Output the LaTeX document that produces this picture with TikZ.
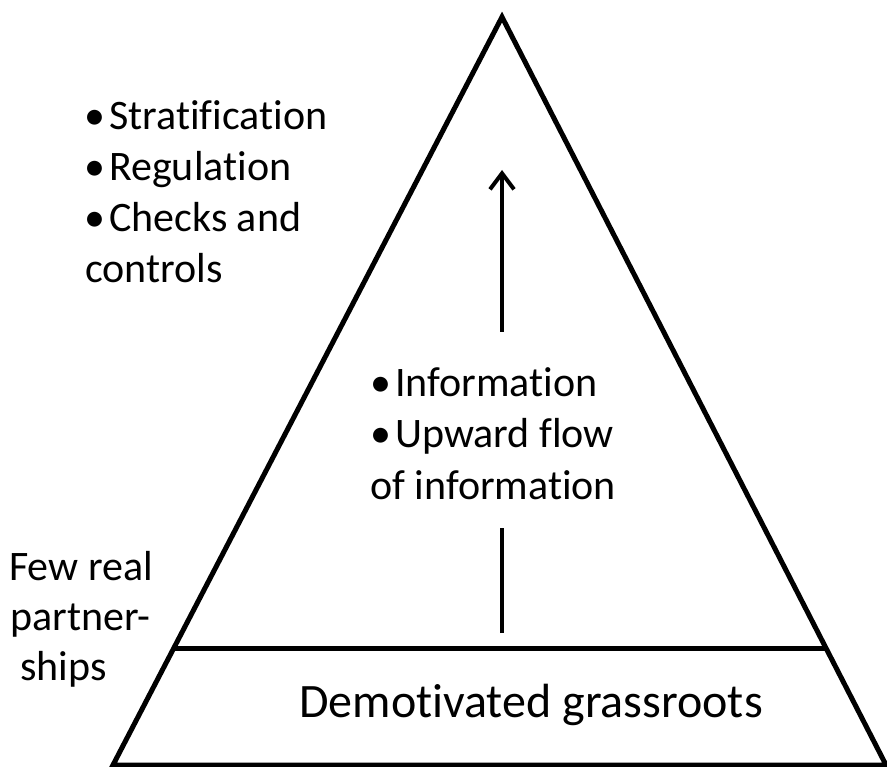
\documentclass[tikz,border=0pt]{standalone}
\usepackage{fontspec}
\setmainfont{Carlito}[Ligatures={NoCommon}]
\usetikzlibrary{arrows.meta,calc}
\newcommand{\bul}{\makebox[25pt][l]{•}}
\begin{document}
\begin{tikzpicture}
[x=1pt,y=-1pt,
  edgedecorate/.style={line width=5pt,line join=miter},
  flowdecorate/.style={line width=4pt},
  textdecorate/.style={anchor=base west,inner sep=0pt,font=\fontsize{42}{51}\selectfont}]
\useasboundingbox (0,0) rectangle (887,767);
%% corners of the pyramid
\coordinate (apex) at (502,17);
\coordinate (baseL) at (113,765);
\coordinate (baseR) at (886,765);
\coordinate (splitL) at ($(apex)!0.8436!(baseL)$);
\coordinate (splitR) at ($(apex)!0.8436!(baseR)$);
%% outline and the layer line
\draw[edgedecorate] (apex) -- (baseL) -- (baseR) -- cycle;
\draw[edgedecorate] (splitL) -- (splitR);
%% flow of information
\coordinate (flowtail) at (502,332);
\coordinate (flowhead) at (502,170);
\coordinate (stubtop) at (502,528);
\coordinate (stubbot) at (502,633);
\draw[flowdecorate,-{Straight Barb[length=16pt,width=24pt]}] (flowtail) -- (flowhead);
\draw[flowdecorate] (stubbot) -- (stubtop);
%% texts
\foreach \nodename/\x/\y/\txt in {strat/84/130/{\bul Stratification},
  regul/84/181/{\bul Regulation}, checks/84/232/{\bul Checks and},
  controls/85/283/{controls}, info/370/397/{\bul Information},
  upward/370/448/{\bul Upward flow}, ofinfo/370/499/{of information},
  few/9/580/{Few real}, partner/10/630/{partner-}, ships/20/680/{ships}}
{
  \node (\nodename) at (\x,\y) [textdecorate] {\txt};
}
\node (grass) at (531,717) [anchor=base,inner sep=0pt,
  font=\fontsize{48}{58}\selectfont] {Demotivated grassroots};
\end{tikzpicture}
\end{document}
